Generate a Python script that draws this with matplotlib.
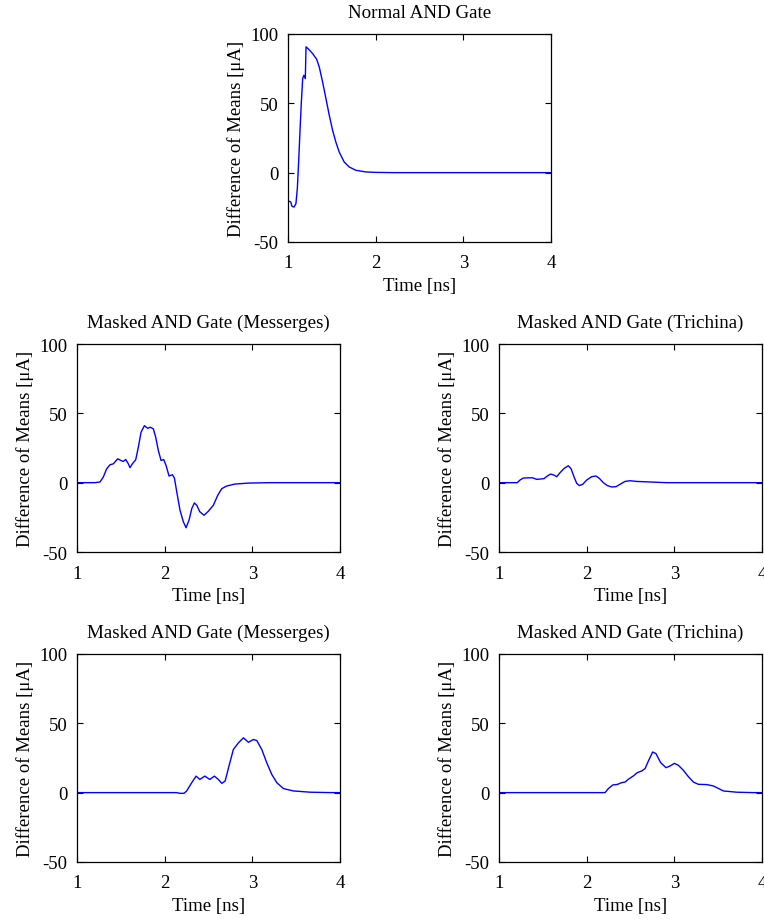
import matplotlib
matplotlib.use("Agg")
import matplotlib.pyplot as plt

plt.rcParams["font.family"] = ["Liberation Serif", "DejaVu Serif"]
plt.rcParams["axes.unicode_minus"] = False
plt.rcParams["font.size"] = 13.5

# time [ns] and difference of means [uA]
normal_t = [1.0, 1.0, 1.03, 1.045, 1.068, 1.09, 1.106, 1.121, 1.136, 1.152, 1.167,
            1.18, 1.197, 1.205, 1.227, 1.28, 1.326, 1.356, 1.394, 1.432, 1.47,
            1.508, 1.545, 1.583, 1.64, 1.697, 1.773, 1.886, 1.99, 2.2, 4.0]
normal_y = [0, -20.5, -21, -24.3, -24.8, -22.4, -11.5, 7.7, 29.4, 51, 67.8,
            70.2, 67.8, 90.7, 89.5, 85.9, 81.8, 76.2, 65.4, 53.4, 41.4,
            30.5, 22.1, 14.9, 7.7, 4.1, 1.7, 0.5, 0.2, 0, 0]

mess1_t = [1.0, 1.205, 1.262, 1.30, 1.338, 1.376, 1.414, 1.464, 1.50, 1.528, 1.555,
           1.585, 1.604, 1.631, 1.669, 1.699, 1.73, 1.768, 1.806, 1.836, 1.87,
           1.897, 1.927, 1.958, 1.988, 2.015, 2.049, 2.087, 2.11, 2.137, 2.174,
           2.212, 2.243, 2.277, 2.308, 2.338, 2.365, 2.40, 2.448, 2.497, 2.554,
           2.604, 2.65, 2.707, 2.80, 2.953, 3.2, 4.0]
mess1_y = [0, 0, 0.5, 4.1, 10, 12.9, 13.6, 17.2, 16, 15.3, 16.7,
           13.6, 10.8, 13.6, 16.5, 25.6, 36.4, 41.1, 39.2, 40, 38.8,
           32.8, 23.2, 16, 16.7, 12.4, 4.8, 5.7, 3.4, -6.7, -19.9,
           -28.2, -32.5, -27, -18.7, -14.6, -16.3, -21, -23.5, -20.6, -16.3,
           -9.1, -4.3, -2.4, -1, -0.3, 0, 0]

trich1_t = [1.0, 1.209, 1.24, 1.277, 1.334, 1.384, 1.43, 1.467, 1.513, 1.551, 1.589,
            1.627, 1.658, 1.696, 1.741, 1.79, 1.821, 1.855, 1.886, 1.916, 1.954,
            2.0, 2.057, 2.106, 2.144, 2.19, 2.235, 2.285, 2.334, 2.38, 2.437,
            2.494, 2.57, 2.72, 2.91, 4.0]
trich1_y = [0, 0, 1.9, 3.3, 3.5, 3.5, 2.4, 2.6, 2.9, 4.8, 6.2,
            5.5, 4.3, 7.2, 10.2, 12.2, 10.2, 4.3, -0.5, -2.1, -1.2,
            1.9, 4.3, 4.8, 3.1, 0, -2.1, -3.1, -2.9, -1.2, 0.9,
            1.4, 0.9, 0.5, 0, 0]

mess2_t = [1.0, 2.137, 2.17, 2.22, 2.25, 2.308, 2.357, 2.40, 2.457, 2.513, 2.566,
           2.611, 2.65, 2.688, 2.737, 2.782, 2.84, 2.897, 2.954, 3.01, 3.049,
           3.106, 3.163, 3.22, 3.277, 3.353, 3.467, 3.66, 3.9, 4.0]
mess2_y = [0, 0, -0.5, -0.5, 1.2, 7.2, 11.9, 9.5, 11.9, 9.5, 11.9,
           9.5, 6.7, 8.3, 20.3, 31.1, 35.9, 39.5, 36.3, 38.3, 37.6,
           31.1, 21.5, 13.1, 7.2, 2.9, 1.2, 0.3, 0, 0]

trich2_t = [1.0, 2.209, 2.247, 2.296, 2.349, 2.399, 2.437, 2.474, 2.531, 2.577, 2.627,
            2.665, 2.703, 2.752, 2.79, 2.843, 2.904, 2.95, 2.999, 3.045, 3.102,
            3.159, 3.216, 3.273, 3.368, 3.444, 3.52, 3.558, 3.71, 3.9, 4.0]
trich2_y = [0, 0, 2.9, 5.5, 5.9, 7.2, 7.6, 9.6, 12, 14.4, 15.6,
            17.3, 22.8, 29.3, 28.1, 21.6, 18, 19.2, 21.1, 19.7, 16.1,
            11.5, 7.6, 6, 5.8, 4.8, 2.4, 1.2, 0.3, 0, 0]

titles = ["Normal AND Gate",
          "Masked AND Gate (Messerges)", "Masked AND Gate (Trichina)",
          "Masked AND Gate (Messerges)", "Masked AND Gate (Trichina)"]
series = [(normal_t, normal_y), (mess1_t, mess1_y), (trich1_t, trich1_y),
          (mess2_t, mess2_y), (trich2_t, trich2_y)]

fig = plt.figure(figsize=(7.64, 9.20), dpi=100)

# axes rectangles in figure fractions (left, bottom, width, height)
w, h = 0.3445, 0.2261
rects = [(0.377, 0.7359, w, h),
         (0.1008, 0.3989, w, h), (0.6531, 0.3989, w, h),
         (0.1008, 0.0620, w, h), (0.6531, 0.0620, w, h)]

for rect, title, (t, y) in zip(rects, titles, series):
    ax = fig.add_axes(rect)
    ax.plot(t, y, color="blue", lw=1.0)
    ax.set_xlim(1, 4)
    ax.set_ylim(-50, 100)
    ax.set_xticks([1, 2, 3, 4])
    ax.set_yticks([-50, 0, 50, 100])
    ax.tick_params(direction="in", top=True, right=True, length=4, width=0.8)
    ax.tick_params(axis="x", pad=9)
    ax.tick_params(axis="y", pad=7)
    for s in ax.spines.values():
        s.set_linewidth(0.9)
    ax.set_title(title, fontsize=13.7, pad=12)
    ax.set_xlabel("Time [ns]")
    ax.set_ylabel("Difference of Means [μA]")

fig.savefig("out.png", dpi=100)
